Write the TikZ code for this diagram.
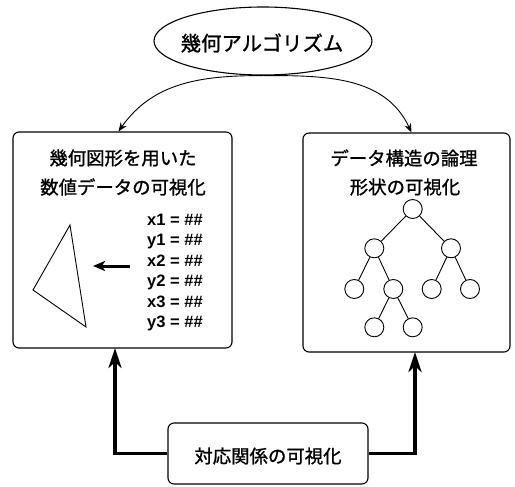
\documentclass[tikz,border=0pt]{standalone}
\usepackage{fontspec}
\newfontfamily\jp{Noto Sans CJK JP}[FakeBold=1.2]
\newfontfamily\codefont{Liberation Sans}
\usetikzlibrary{shapes.geometric,arrows.meta}
\begin{document}
\begin{tikzpicture}[x=1pt,y=-1pt,
  box/.style={draw,line width=1.1pt,rounded corners=6pt,inner sep=0pt},
  jtext/.style={font=\jp\fontsize{18.4}{21}\selectfont,inner sep=0pt},
  leaf/.style={draw,circle,line width=0.9pt,minimum size=19pt,inner sep=0pt},
  edge/.style={line width=0.9pt},
  thin arrow/.style={line width=0.9pt,-{Stealth[length=9pt,width=7pt,inset=3pt]}},
  thick arrow/.style={line width=3.8pt,-{Stealth[length=20pt,width=13pt,inset=6pt]}}]
\useasboundingbox (0,0) rectangle (515,487);
% ellipse
\node[draw,ellipse,line width=1.1pt,minimum width=218pt,minimum height=68pt,inner sep=0pt] (E) at (263,41) {};
\node[jtext,font=\jp\fontsize{20.4}{23}\selectfont] (Et) at (262,43) {幾何アルゴリズム};
% boxes
\node[box,minimum width=219pt,minimum height=216pt] (L) at (122.5,240) {};
\node[box,minimum width=207pt,minimum height=219pt] (R) at (406.5,242.5) {};
\node[box,minimum width=200pt,minimum height=61pt] (B) at (268,453.5) {};
% texts
\node[jtext] (L1) at (123,158) {幾何図形を用いた};
\node[jtext] (L2) at (123,187) {数値データの可視化};
\node[jtext] (R1) at (404,158) {データ構造の論理};
\node[jtext] (R2) at (405,187) {形状の可視化};
\node[jtext] (Bt) at (268,456) {対応関係の可視化};
% values
\node[anchor=west,align=left,inner sep=0pt,font=\codefont\bfseries\fontsize{16.5}{20.4}\selectfont] (vals) at (147,272.5)
  {x1 = \#\#\\y1 = \#\#\\x2 = \#\#\\y2 = \#\#\\x3 = \#\#\\y3 = \#\#};
% triangle
\draw[line width=0.9pt,line join=miter] (70,225) -- (33,290) -- (86,327) -- cycle;
% arrow in left box
\coordinate (a1) at (130,266);
\coordinate (a2) at (93,266);
\draw[line width=3pt,-{Stealth[length=12pt,width=10pt,inset=3pt]}] (a1) -- (a2);
% tree
\node[leaf] (t0) at (412.7,209) {};
\node[leaf] (t1) at (374.3,248.3) {};
\node[leaf] (t2) at (451,248.3) {};
\node[leaf] (t3) at (354.3,289) {};
\node[leaf] (t4) at (393.3,289) {};
\node[leaf] (t5) at (431.7,289) {};
\node[leaf] (t6) at (470,289) {};
\node[leaf] (t7) at (374.3,327.3) {};
\node[leaf] (t8) at (412.7,327.3) {};
\draw[edge] (t0) -- (t1) (t0) -- (t2) (t1) -- (t3) (t1) -- (t4)
  (t2) -- (t5) (t2) -- (t6) (t4) -- (t7) (t4) -- (t8);
% curved arrows
\draw[thin arrow] (E.south) to[out=180,in=55] ([xshift=-4pt]L.north);
\draw[thin arrow] (E.south) to[out=0,in=115] ([xshift=5pt]R.north);
% thick arrows
\draw[thick arrow,line join=miter] (B.west) -| (115,348);
\draw[thick arrow,line join=miter] (B.east) -| (415,352);
\end{tikzpicture}
\end{document}
